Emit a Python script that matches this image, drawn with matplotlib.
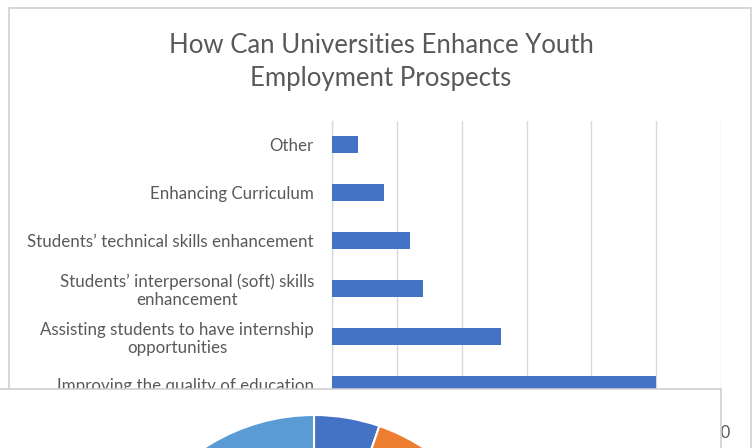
import matplotlib
matplotlib.use("Agg")
import matplotlib.pyplot as plt
from matplotlib.patches import Rectangle

plt.rcParams['font.family'] = ['Lato', 'DejaVu Sans']

# Survey responses: how universities can improve youth employment prospects
categories = [
    "Other",
    "Enhancing Curriculum",
    "Students\u2019 technical skills enhancement",
    "Students\u2019 interpersonal (soft) skills\nenhancement",
    "Assisting students to have internship\nopportunities",
    "Improving the quality of education",
]
responses = [2, 4, 6, 7, 13, 25]
x_ticks = [0, 5, 10, 15, 20, 25, 30]

# Companion pie chart (only its upper part is shown)
pie_shares = [5.3, 27.0, 17.5, 15.2, 35.0]
pie_colors = ["#4472C4", "#ED7D31", "#A5A5A5", "#FFC000", "#5B9BD5"]

W, H = 754, 448
fig = plt.figure(figsize=(W / 100, H / 100), dpi=100)
fig.patch.set_facecolor("white")

def fx(px):
    return px / W

def fy(py):
    return 1 - py / H

TEXT = "#595959"
GRID = "#D9D9D9"

# Outer chart frame
fig.add_artist(Rectangle((fx(9), fy(470)), fx(751) - fx(9), fy(8) - fy(470),
                         transform=fig.transFigure, fill=False,
                         edgecolor="#D0D0D0", linewidth=1.2, zorder=0))

# Title
fig.text(fx(381), fy(62),
         "How Can Universities Enhance Youth\nEmployment Prospects",
         ha="center", va="center", fontsize=18.5, color=TEXT, linespacing=1.42)

# Bar chart
ax = fig.add_axes([fx(332), fy(408), fx(721) - fx(332), fy(121) - fy(408)])
ypos = list(range(len(categories)))
ax.barh(ypos, responses, height=0.355, color="#4472C4", zorder=3)
ax.set_yticks(ypos)
ax.set_yticklabels(categories, fontsize=12.2, color=TEXT, multialignment="center",
                   linespacing=1.15)
ax.set_ylim(len(categories) - 0.5, -0.5)
ax.set_xlim(x_ticks[0], x_ticks[-1])
ax.set_xticks(x_ticks)
ax.set_xticklabels([str(t) for t in x_ticks], fontsize=12, color=TEXT)
ax.tick_params(axis="both", length=0)
ax.tick_params(axis="y", pad=13)
ax.tick_params(axis="x", pad=12)
ax.grid(axis="x", color=GRID, linewidth=1.0, zorder=0)
for side in ["top", "right", "bottom"]:
    ax.spines[side].set_visible(False)
ax.spines["left"].set_color(GRID)
ax.spines["left"].set_linewidth(1.0)
ax.set_facecolor("none")

# Pie chart panel overlapping the lower part
box = fig.add_axes([fx(-2), fy(470), fx(720.5) - fx(-2), fy(389) - fy(470)])
box.set_zorder(5)
box.set_facecolor("white")
box.set_xticks([])
box.set_yticks([])
for s in box.spines.values():
    s.set_color("#D0D0D0")
    s.set_linewidth(1.2)

r_px = 200
cx, cy = 314, 615
pax = fig.add_axes([fx(cx - r_px), fy(cy + r_px), fx(2 * r_px), (2 * r_px) / H])
pax.set_zorder(6)
pax.set_facecolor("none")
pax.pie(pie_shares, colors=pie_colors, startangle=90, counterclock=False,
        radius=1.0, wedgeprops=dict(edgecolor="white", linewidth=1.5))
pax.set_xlim(-1, 1)
pax.set_ylim(-1, 1)
pax.set_aspect("auto")
pax.axis("off")

fig.savefig("out.png", dpi=100, facecolor="white")
